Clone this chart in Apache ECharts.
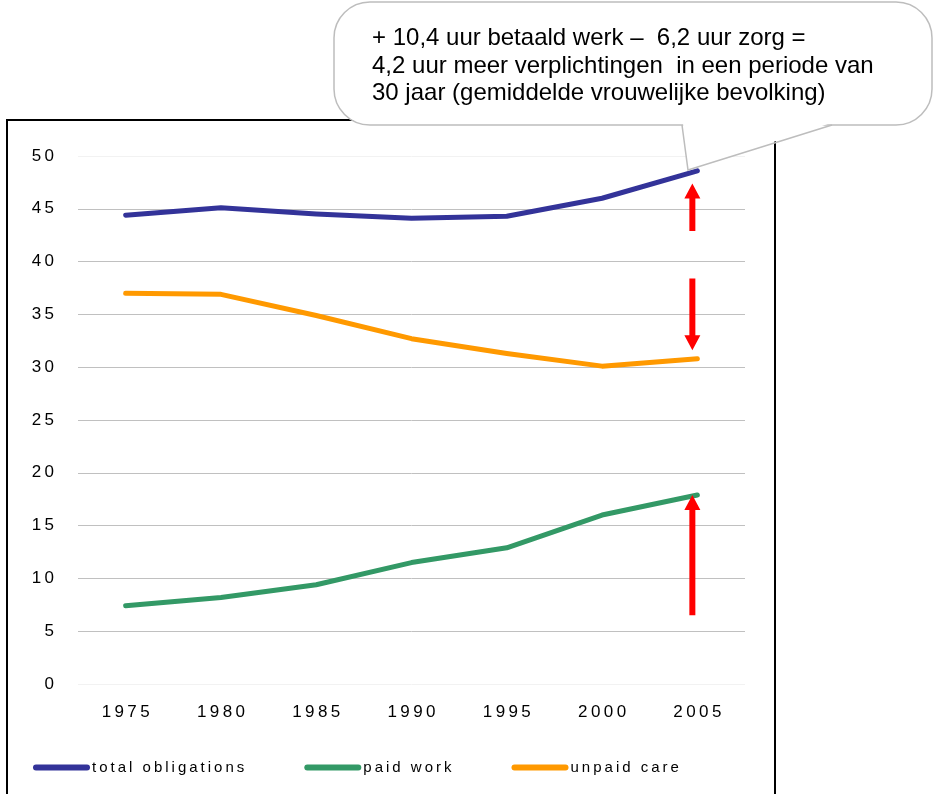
<!DOCTYPE html>
<html>
<head>
<meta charset="utf-8">
<script src="https://cdn.jsdelivr.net/npm/echarts@6/dist/echarts.min.js"></script>
<style>
  html, body { margin: 0; padding: 0; background: #fff; }
  #chart { width: 939px; height: 794px; }
</style>
</head>
<body>
<div id="chart"></div>
<script>
//----------------------Data----------------------
let years = ['1975', '1980', '1985', '1990', '1995', '2000', '2005'];
let total_obligations = [44.4, 45.1, 44.5, 44.1, 44.3, 46.0, 48.6];
let paid_work = [7.4, 8.2, 9.4, 11.5, 12.9, 16.0, 17.9];
let unpaid_care = [37.0, 36.9, 34.9, 32.7, 31.3, 30.1, 30.8];
// arrows: [category index, from, to]
let arrows = [[6, 42.9, 47.4], [6, 38.4, 31.6], [6, 6.5, 17.9]];
let note_lines = [
    '+ 10,4 uur betaald werk \u2013  6,2 uur zorg =',
    '4,2 uur meer verplichtingen  in een periode van',
    '30 jaar (gemiddelde vrouwelijke bevolking)'
];

let chart_dom = document.getElementById('chart');
let chart = echarts.init(chart_dom);

let sans = "'Liberation Sans', Arial, sans-serif";
function spaced(s) { return s.split('').join('\u2009'); }

//----------------------Axis----------------------
let grid_lines = ['#f2f2f2', '#c0c0c0', '#c0c0c0', '#c0c0c0', '#c0c0c0', '#c0c0c0',
    '#c0c0c0', '#c0c0c0', '#c0c0c0', '#c0c0c0', '#f2f2f2'];

let xAxis = {
    type: 'category',
    data: years,
    boundaryGap: true,
    axisLine: {show: false},
    axisTick: {show: false},
    axisLabel: {
        margin: 20,
        color: '#000',
        fontSize: 17,
        fontFamily: sans,
        formatter: spaced
    }
};
let yAxis = {
    type: 'value',
    min: 0,
    max: 50,
    interval: 5,
    axisLine: {show: false},
    axisTick: {show: false},
    splitLine: {lineStyle: {color: grid_lines, width: 1}},
    axisLabel: {
        margin: 24,
        color: '#000',
        fontSize: 17,
        fontFamily: sans,
        formatter: function (v) { return spaced(String(v)); }
    }
};

//---------------------Series---------------------
function lineSeries(name, data, color) {
    return {
        name: name,
        type: 'line',
        data: data,
        showSymbol: false,
        symbol: 'none',
        z: 3,
        color: color,
        lineStyle: {color: color, width: 5, cap: 'round', join: 'round'}
    };
}

let arrow_series = {
    type: 'custom',
    name: 'arrows',
    silent: true,
    z: 5,
    data: arrows,
    renderItem: function (params, api) {
        let a = api.coord([api.value(0), api.value(1)]);
        let b = api.coord([api.value(0), api.value(2)]);
        let cx = a[0] - 5;
        let dir = b[1] > a[1] ? 1 : -1;
        let yh = b[1] - dir * 15;
        return {
            type: 'polygon',
            shape: {points: [
                [cx - 3, a[1]], [cx - 3, yh], [cx - 8, yh], [cx, b[1]],
                [cx + 8, yh], [cx + 3, yh], [cx + 3, a[1]]
            ]},
            style: {fill: '#ff0000'}
        };
    }
};

//---------------------Graphic---------------------
let graphic = [
    {type: 'rect', z: 1, shape: {x: 7, y: 120, width: 768, height: 700},
        style: {fill: null, stroke: '#000', lineWidth: 2}},
    {type: 'rect', z: 20, shape: {x: 334, y: 2, width: 598, height: 123, r: 36},
        style: {fill: '#fff', stroke: '#bdbdbd', lineWidth: 1.5}},
    {type: 'polygon', z: 21, shape: {points: [[683, 123], [688, 170], [831, 123]]},
        style: {fill: '#fff'}},
    {type: 'polyline', z: 22, shape: {points: [[682, 125], [688, 170], [832, 125]]},
        style: {fill: null, stroke: '#bdbdbd', lineWidth: 1.5}},
    {type: 'text', z: 23, left: 372, top: 25,
        style: {text: note_lines.join('\n'), fill: '#000', fontSize: 24,
            fontFamily: sans, lineHeight: 27.5}}
];

//------------------Generate Graph------------------
let option = {
    backgroundColor: '#fff',
    animation: false,
    grid: {left: 78, right: 194, top: 156, bottom: 110, containLabel: false},
    xAxis: xAxis,
    yAxis: yAxis,
    legend: {
        data: ['total obligations', 'paid work', 'unpaid care'],
        left: 33,
        top: 760,
        padding: 0,
        icon: 'path://M3,0 L54,0 A3,3 0 0 1 54,6 L3,6 A3,3 0 0 1 3,0 Z',
        itemWidth: 57,
        itemHeight: 6,
        itemGap: 60,
        formatter: spaced,
        textStyle: {color: '#000', fontSize: 15, fontFamily: sans, padding: [0, 0, 0, -3]}
    },
    series: [
        lineSeries('total obligations', total_obligations, '#333399'),
        lineSeries('paid work', paid_work, '#339966'),
        lineSeries('unpaid care', unpaid_care, '#ff9900'),
        arrow_series
    ],
    graphic: graphic
};
chart.setOption(option, true);
</script>
</body>
</html>
